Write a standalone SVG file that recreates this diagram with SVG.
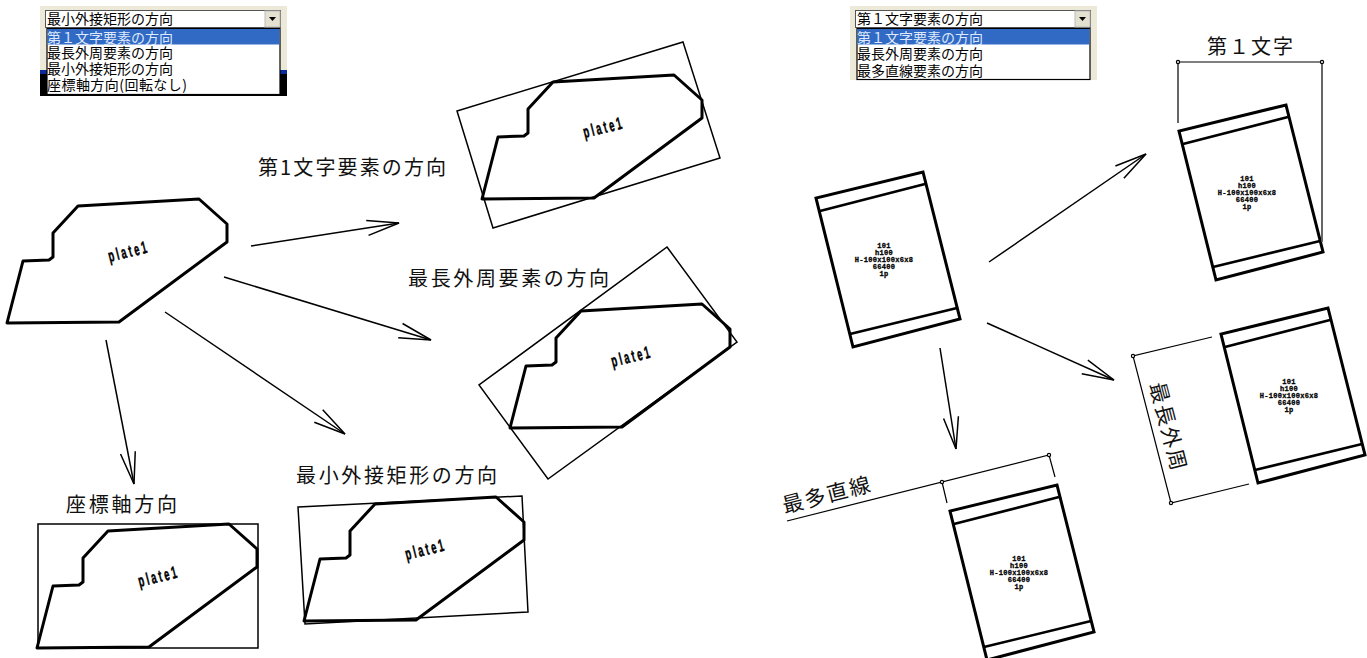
<svg xmlns="http://www.w3.org/2000/svg" width="1367" height="658" viewBox="0 0 1367 658">
<style>
text{font-family:"Noto Sans CJK JP","Liberation Sans",sans-serif;fill:#111}
.lbl{font-size:20px}
.dd{font-size:14px;fill:#000}
.sel{font-size:14px;fill:#dfe8fa}
.beige{fill:#ece9d8}
.box{fill:#fff;stroke:#555;stroke-width:1}
.list{fill:#fff;stroke:#000;stroke-width:1.2}
.hl{fill:#316ac5}
.btn{fill:#e4e1d0;stroke:#bbb;stroke-width:1}
.outline{fill:none;stroke:#000;stroke-width:3;stroke-linejoin:round}
.frame{fill:none;stroke:#000;stroke-width:1.5}
.member{fill:none;stroke:#000;stroke-width:3;stroke-linejoin:miter}
.flange{fill:none;stroke:#000;stroke-width:2.6}
.dim{fill:none;stroke:#000;stroke-width:1.2}
.pt{fill:#fff;stroke:#000;stroke-width:1.2}
.arrow{fill:none;stroke:#000;stroke-width:1.5;marker-end:url(#head)}
.pl{font-family:"Liberation Sans",sans-serif;font-size:17px;font-weight:bold;letter-spacing:4.500px;text-anchor:middle;fill:#000;stroke:#000;stroke-width:.5}
.tag{font-family:"Liberation Mono",monospace;font-size:7px;font-weight:bold;letter-spacing:.3px;text-anchor:middle;fill:#000;stroke:#000;stroke-width:.3}
</style>
<defs>
<marker id="head" markerUnits="userSpaceOnUse" markerWidth="40" markerHeight="22" refX="33" refY="10" orient="auto">
<path d="M1,2.500L33,10L1,17.500" fill="none" stroke="#000" stroke-width="1.500"/>
</marker>
</defs>

<g id="dropdown-left">
<rect class="beige" x="40" y="6" width="247" height="64"/>
<rect x="40" y="70" width="247" height="4" fill="#0a2a9a"/>
<rect x="40" y="74" width="247" height="22" fill="#000"/>
<rect class="box" x="45.500" y="10.500" width="235" height="17"/>
<rect class="btn" x="265" y="11" width="15" height="16"/>
<path d="M269,17h7l-3.500,4z" fill="#000"/>
<text class="dd" x="47" y="24">最小外接矩形の方向</text>
<rect class="list" x="47" y="28.500" width="233" height="66"/>
<rect class="hl" x="47.500" y="29" width="232" height="15.500"/>
<text class="sel" x="47" y="43" textLength="126">第１文字要素の方向</text>
<text class="dd" x="47" y="58" textLength="126">最長外周要素の方向</text>
<text class="dd" x="47" y="74" textLength="126">最小外接矩形の方向</text>
<text class="dd" x="47" y="90" textLength="140">座標軸方向(回転なし)</text>
</g>

<g id="dropdown-right">
<rect class="beige" x="850" y="6" width="247" height="74"/>
<rect class="box" x="855.500" y="10.500" width="235" height="17"/>
<rect class="btn" x="1075" y="11" width="15" height="16"/>
<path d="M1079,17h7l-3.500,4z" fill="#000"/>
<text class="dd" x="857" y="24">第１文字要素の方向</text>
<rect class="list" x="857" y="28.500" width="233" height="51"/>
<rect class="hl" x="857.500" y="29" width="232" height="15.500"/>
<text class="sel" x="857" y="43" textLength="126">第１文字要素の方向</text>
<text class="dd" x="857" y="59" textLength="126">最長外周要素の方向</text>
<text class="dd" x="857" y="76" textLength="126">最多直線要素の方向</text>
</g>

<g id="connectors">
<line class="arrow" x1="251" y1="246" x2="399" y2="223"/>
<line class="arrow" x1="224" y1="277" x2="431" y2="340"/>
<line class="arrow" x1="165" y1="312" x2="345" y2="434"/>
<line class="arrow" x1="106" y1="340" x2="134" y2="484"/>
<line class="arrow" x1="989" y1="262" x2="1146" y2="154"/>
<line class="arrow" x1="987" y1="323" x2="1114" y2="380"/>
<line class="arrow" x1="940" y1="348" x2="956" y2="449"/>
</g>

<g id="plate-source">
<polygon class="outline" points="78,206 199,199 227,224 227,242 119,322 7,323 23,261 49,260 53,257 53,233"/>
<text class="pl" transform="translate(130,257) rotate(-14) scale(.55,1)">plate1</text>
</g>

<g id="plate-first-char">
<polygon class="frame" points="683,42 720,158 493,228 457,111"/>
<g transform="translate(475,-124)">
<polygon class="outline" points="78,206 199,199 227,224 227,242 119,322 7,323 23,261 49,260 53,257 53,233"/>
<text class="pl" transform="translate(130,257) rotate(-14) scale(.55,1)">plate1</text>
</g>
<text class="lbl" x="258" y="175" textLength="188">第1文字要素の方向</text>
</g>

<g id="plate-longest">
<polygon class="frame" points="667,247 737,342 548,479 479,385"/>
<g transform="translate(503,105)">
<polygon class="outline" points="78,206 199,199 227,224 227,242 119,322 7,323 23,261 49,260 53,257 53,233"/>
<text class="pl" transform="translate(130,257) rotate(-14) scale(.55,1)">plate1</text>
</g>
<text class="lbl" x="408" y="286" textLength="201">最長外周要素の方向</text>
</g>

<g id="plate-min-rect">
<polygon class="frame" points="298,507 522,496 528,612 305,624"/>
<g transform="translate(297,298)">
<polygon class="outline" points="78,206 199,199 227,224 227,242 119,322 7,323 23,261 49,260 53,257 53,233"/>
<text class="pl" transform="translate(130,257) rotate(-14) scale(.55,1)">plate1</text>
</g>
<text class="lbl" x="296" y="483" textLength="201">最小外接矩形の方向</text>
</g>

<g id="plate-axis">
<rect class="frame" x="38" y="524" width="220" height="124"/>
<g transform="translate(30,325)">
<polygon class="outline" points="78,206 199,199 227,224 227,242 119,322 7,323 23,261 49,260 53,257 53,233"/>
<text class="pl" transform="translate(130,257) rotate(-14) scale(.55,1)">plate1</text>
</g>
<text class="lbl" x="66" y="512" textLength="111">座標軸方向</text>
</g>

<g id="member-source">
<polygon class="member" points="923,172 960,319 853,347 816,198"/>
<path class="flange" d="M820,211L925,184M850,334L957,308"/>
<g><text class="tag" x="884" y="248">101</text><text class="tag" x="884" y="254.500">h100</text><text class="tag" x="884" y="262">H-100x100x6x8</text><text class="tag" x="884" y="269">66400</text><text class="tag" x="884" y="275.500">1p</text></g>
</g>

<g id="member-first-char">
<g transform="translate(363,-67)">
<polygon class="member" points="923,172 960,319 853,347 816,198"/>
<path class="flange" d="M820,211L925,184M850,334L957,308"/>
<g><text class="tag" x="884" y="248">101</text><text class="tag" x="884" y="254.500">h100</text><text class="tag" x="884" y="262">H-100x100x6x8</text><text class="tag" x="884" y="269">66400</text><text class="tag" x="884" y="275.500">1p</text></g>
</g>
<path class="dim" d="M1178,123V62H1322"/>
<path d="M1322,62V242" fill="none" stroke="#555" stroke-width="1.800"/>
<circle class="pt" cx="1178" cy="62" r="1.600"/>
<circle class="pt" cx="1322" cy="62" r="1.600"/>
<text class="lbl" x="1207" y="54" textLength="86">第１文字</text>
</g>

<g id="member-longest">
<g transform="translate(405,136)">
<polygon class="member" points="923,172 960,319 853,347 816,198"/>
<path class="flange" d="M820,211L925,184M850,334L957,308"/>
<g><text class="tag" x="884" y="248">101</text><text class="tag" x="884" y="254.500">h100</text><text class="tag" x="884" y="262">H-100x100x6x8</text><text class="tag" x="884" y="269">66400</text><text class="tag" x="884" y="275.500">1p</text></g>
</g>
<path class="dim" d="M1212,337L1133,356L1171,503L1249,484"/>
<circle class="pt" cx="1133" cy="356" r="1.600"/>
<circle class="pt" cx="1171" cy="503" r="1.600"/>
<text class="lbl" style="font-size:21px" text-anchor="middle" letter-spacing="2" transform="translate(1161,429) rotate(75.500)">最長外周</text>
</g>

<g id="member-most-lines">
<g transform="translate(134,313)">
<polygon class="member" points="923,172 960,319 853,347 816,198"/>
<path class="flange" d="M820,211L925,184M850,334L957,308"/>
<g><text class="tag" x="885" y="248">101</text><text class="tag" x="885" y="254.500">h100</text><text class="tag" x="885" y="262">H-100x100x6x8</text><text class="tag" x="885" y="269">66400</text><text class="tag" x="885" y="275.500">1p</text></g>
</g>
<path class="dim" d="M787,521L1049,455L1055,477M942,482L947,503"/>
<circle class="pt" cx="942" cy="482" r="1.600"/>
<circle class="pt" cx="1049" cy="455" r="1.600"/>
<text class="lbl" style="font-size:21px" text-anchor="middle" letter-spacing="2" transform="translate(829,502) rotate(-14.200)">最多直線</text>
</g>
</svg>
